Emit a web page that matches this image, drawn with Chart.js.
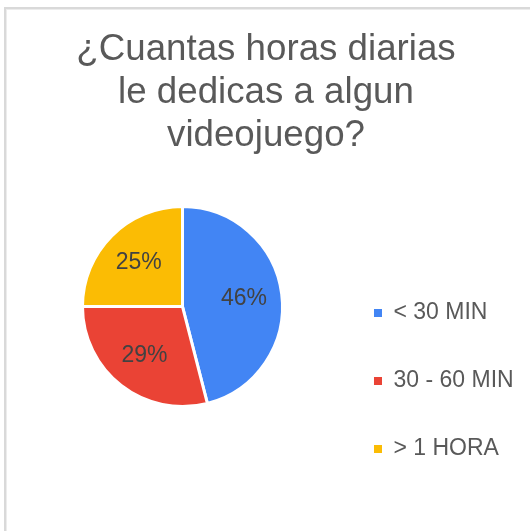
<!DOCTYPE html>
<html>
<head>
<meta charset="utf-8">
<script src="https://cdn.jsdelivr.net/npm/chart.js@4.4.1/dist/chart.umd.min.js"></script>
<style>
  html, body { margin: 0; padding: 0; background: #ffffff; overflow: hidden; }
  #frame { position: absolute; left: 4px; top: 7px; width: 700px; height: 700px;
           border-left: 2px solid #d9d9d9; border-top: 2px solid #d9d9d9;
           box-shadow: inset 1px 1px 0 #ececec; }
  #c { position: absolute; left: 0; top: 0; }
</style>
</head>
<body>
<div id="frame"></div>
<canvas id="c" width="530" height="531"></canvas>
<script>
// ---- data ----
const titleLines = ['¿Cuantas horas diarias', 'le dedicas a algun', 'videojuego?'];
const categories = ['< 30 MIN', '30 - 60 MIN', '> 1 HORA'];
const values = [46, 29, 25];
const sliceColors = ['#4285F4', '#EA4335', '#FBBC04'];

const FONT = '"Liberation Sans", Arial, Helvetica, sans-serif';
Chart.defaults.font.family = FONT;

const pctLabels = {
  id: 'pctLabels',
  afterDatasetsDraw(chart) {
    const ctx = chart.ctx;
    const meta = chart.getDatasetMeta(0);
    const total = values.reduce((a, b) => a + b, 0);
    ctx.save();
    ctx.font = '23px ' + FONT;
    ctx.fillStyle = '#424242';
    ctx.textAlign = 'center';
    ctx.textBaseline = 'middle';
    meta.data.forEach((arc, i) => {
      const p = arc.getProps(['x', 'y', 'startAngle', 'endAngle', 'outerRadius']);
      const mid = (p.startAngle + p.endAngle) / 2;
      const r = p.outerRadius * 0.62;
      ctx.fillText(Math.round(values[i] / total * 100) + '%',
                   p.x + Math.cos(mid) * r, p.y + Math.sin(mid) * r);
    });
    ctx.restore();
  }
};

new Chart(document.getElementById('c'), {
  type: 'pie',
  data: {
    labels: categories,
    datasets: [{
      data: values,
      backgroundColor: sliceColors,
      borderColor: '#ffffff',
      borderWidth: 3
    }]
  },
  options: {
    responsive: false,
    animation: false,
    radius: 100,
    layout: { padding: { left: 8.35, right: 6.35, top: 0, bottom: 25.5 } },
    plugins: {
      tooltip: { enabled: false },
      title: {
        display: true,
        text: titleLines,
        color: '#595959',
        font: { size: 36.7, weight: 'normal', family: FONT, lineHeight: 1.175 },
        padding: { top: 28, bottom: -49.8 }
      },
      legend: {
        position: 'right',
        align: 'end',
        fullSize: false,
        labels: {
          boxWidth: 8,
          boxHeight: 8,
          padding: 17.35,
          color: '#595959',
          font: { size: 23, family: FONT, lineHeight: 2.2022 },
          generateLabels: () => categories.map((c, i) => ({
            text: [c],
            fillStyle: sliceColors[i],
            strokeStyle: sliceColors[i],
            lineWidth: 0,
            fontColor: '#595959',
            hidden: false,
            index: i
          }))
        }
      }
    }
  },
  plugins: [pctLabels]
});
</script>
</body>
</html>
